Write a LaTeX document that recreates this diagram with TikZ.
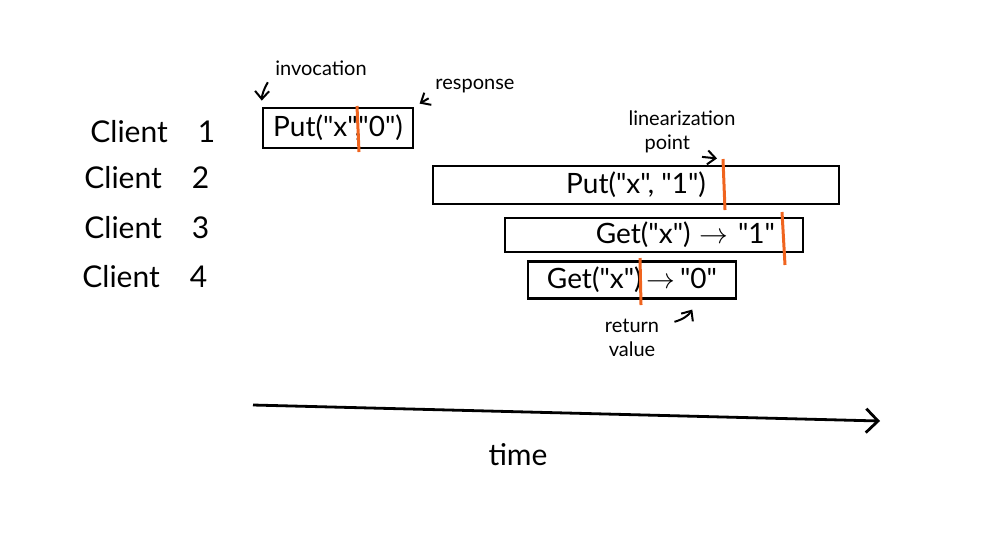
\documentclass[tikz,border=0pt]{standalone}
\usepackage{fontspec}
\setmainfont{Lato}[Ligatures=TeXOff]
\usetikzlibrary{positioning, calc, arrows.meta}
\definecolor{linorange}{RGB}{240,100,30}
\newcommand{\strq}[1]{"#1"}

\begin{document}
\begin{tikzpicture}[x=0.5pt, y=-0.5pt, line width=1.4pt,
  client/.style={anchor=west, inner sep=0pt, font=\fontsize{15}{17}\selectfont},
  call/.style={draw, inner sep=0pt, font=\fontsize{14}{16}\selectfont},
  note/.style={font=\fontsize{10}{12}\selectfont, align=center, inner sep=1pt},
  lin/.style={draw=linorange, line width=1.5pt},
  pointer/.style={-{Straight Barb[length=4pt, width=7pt]}, line width=1pt, shorten <=2pt, shorten >=3pt},
  axis/.style={-{Straight Barb[length=6pt, width=12pt]}, line width=1.4pt}]

\useasboundingbox (0,0) rectangle (1005,532);

\foreach \x/\y/\n in {89/132/1, 83/178/2, 83/228/3, 81/277/4} {
    \node[client] (c\n) at (\x,\y) {Client\quad\n};
}

% operations
\node[call, minimum width=75pt, minimum height=20pt] (put0) at (338,128) {Put(\strq{x},\strq{0})};
\node[call, minimum width=203pt, minimum height=19pt] (put1) at (636,185) {Put(\strq{x}, \strq{1})};
\node[call, minimum height=17pt, text width=121pt, inner xsep=14pt, align=right] (get1) at (654,235) {Get(\strq{x}) $\to$ \strq{1}};
\node[call, minimum width=104pt, minimum height=18.5pt] (get0) at (632,280) {Get(\strq{x})$\,\to\,$\strq{0}};

% linearization points
\coordinate (lp1) at (357,106);
\coordinate (lp2) at (723,159);
\coordinate (lp3) at (782,212);
\coordinate (lp4) at (640,258);
\draw[lin] (lp1) -- (359,152);
\draw[lin] (lp2) -- (725,210);
\draw[lin] (lp3) -- (785,265);
\draw[lin] (lp4) -- (641,305);

% notes
\node[note] (inv) at (321,68) {invocation};
\node[note] (resp) at (475,86) {response};
\node[note, align=left] (linpt) at (682,132) {linearization\\\hspace*{8pt}point};
\node[note] (ret) at (632,338) {return\\value};

\draw[pointer] ([xshift=-1pt]inv.south west) to[bend right=15] (put0.north west);
\draw[pointer] (resp.south west) -- (put0.north east);
\draw[pointer] ([xshift=8pt]linpt.south) -- (lp2);
\draw[pointer, shorten <=0pt, shorten >=1pt] ([xshift=6pt, yshift=-3pt]ret.north east) to[bend right=20] ([xshift=-22pt, yshift=-4pt]get0.south east);

% time axis
\coordinate (t0) at (253,405);
\coordinate (t1) at (880,421);
\draw[axis] (t0) -- (t1);
\node[font=\fontsize{15}{17}\selectfont] (time) at (518,455) {time};
\end{tikzpicture}
\end{document}
